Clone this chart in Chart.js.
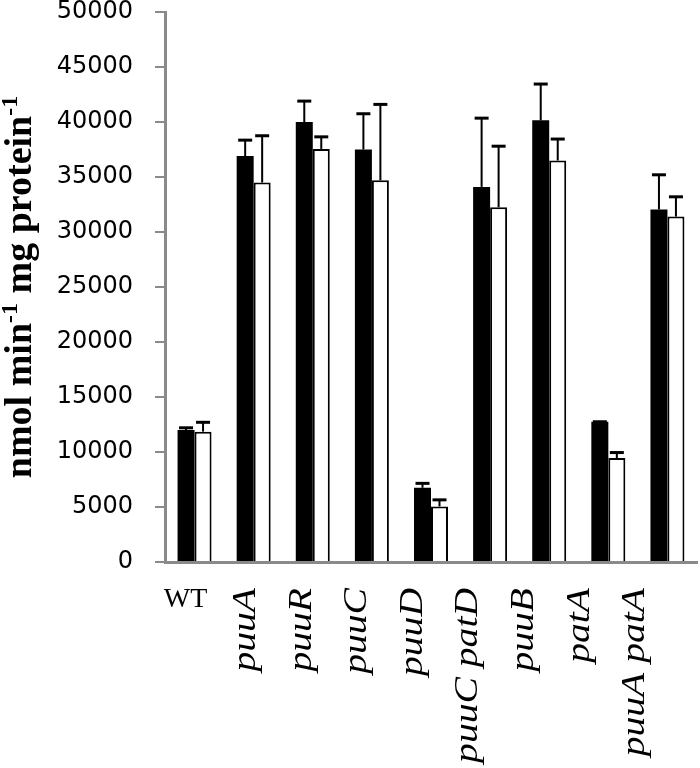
<!DOCTYPE html>
<html>
<head>
<meta charset="utf-8">
<script src="https://cdn.jsdelivr.net/npm/chart.js@4/dist/chart.umd.min.js"></script>
<style>
  html, body { margin: 0; padding: 0; background: #fff; }
  #wrap { width: 700px; height: 768px; position: relative; }
</style>
</head>
<body>
<div id="wrap"><canvas id="chart"></canvas></div>
<script>
const categories = ['WT', 'puuA', 'puuR', 'puuC', 'puuD', 'puuC patD', 'puuB', 'patA', 'puuA patA'];
const blackValues = [12000, 36900, 40000, 37500, 6750, 34100, 40150, 12750, 32050];
const blackErrors = [200, 1450, 1900, 3250, 400, 6250, 3300, 0, 3150];
const whiteValues = [11850, 34500, 37550, 34700, 5050, 32250, 36500, 9450, 31400];
const whiteErrors = [850, 4250, 1100, 6900, 600, 5550, 1950, 500, 1800];
const yTicks = [0, 5000, 10000, 15000, 20000, 25000, 30000, 35000, 40000, 45000, 50000];

// upward-only error bars, drawn from the scales
const errorBars = {
  id: 'errorBars',
  afterDatasetsDraw(chart) {
    const ctx = chart.ctx;
    const y = chart.scales.y;
    chart.data.datasets.forEach((ds, di) => {
      const meta = chart.getDatasetMeta(di);
      meta.data.forEach((bar, i) => {
        const top = y.getPixelForValue(ds.data[i]);
        const end = y.getPixelForValue(ds.data[i] + ds.errors[i]);
        ctx.save();
        ctx.strokeStyle = '#000';
        ctx.lineWidth = 2;
        ctx.beginPath();
        ctx.moveTo(bar.x, top);
        ctx.lineTo(bar.x, end);
        ctx.stroke();
        ctx.lineWidth = 3;
        ctx.beginPath();
        ctx.moveTo(bar.x - 7, end);
        ctx.lineTo(bar.x + 7, end);
        ctx.stroke();
        ctx.restore();
      });
    });
  }
};

// y title with superscripts
const yTitle = {
  id: 'yTitle',
  afterDraw(chart) {
    const ctx = chart.ctx;
    const parts = [
      ['nmol min', false], ['-1', true], [' mg protein', false], ['-1', true]
    ];
    const big = 'bold 38px "Liberation Serif", "Times New Roman", serif';
    const small = 'bold 24px "Liberation Serif", "Times New Roman", serif';
    let total = 0;
    parts.forEach(([t, sup]) => { ctx.font = sup ? small : big; total += ctx.measureText(t).width; });
    const cy = (chart.chartArea.top + chart.chartArea.bottom) / 2;
    ctx.save();
    ctx.translate(31, cy);
    ctx.rotate(-Math.PI / 2);
    ctx.fillStyle = '#000';
    ctx.textBaseline = 'alphabetic';
    ctx.textAlign = 'left';
    let x = -total / 2;
    parts.forEach(([t, sup]) => {
      ctx.font = sup ? small : big;
      ctx.fillText(t, x, sup ? -14 : 0);
      x += ctx.measureText(t).width;
    });
    ctx.restore();
  }
};

// category labels: WT upright, gene names italic and rotated
const xLabels = {
  id: 'xLabels',
  afterDraw(chart) {
    const ctx = chart.ctx;
    const xs = chart.scales.x;
    const base = chart.chartArea.bottom;
    const x0 = xs.getPixelForValue(0);
    ctx.save();
    ctx.fillStyle = '#000';
    categories.forEach((label, i) => {
      const px = x0 + (xs.getPixelForValue(i) - x0) * 0.94;
      if (i === 0) {
        ctx.font = '28px "Liberation Serif", "Times New Roman", serif';
        ctx.textAlign = 'center';
        ctx.textBaseline = 'alphabetic';
        ctx.fillText(label, px - 9, base + 45);
        return;
      }
      ctx.save();
      ctx.translate(px + 5, base + 26);
      ctx.rotate(-Math.PI / 2);
      ctx.scale(1.2, 1);
      ctx.font = 'italic 33px "Liberation Serif", "Times New Roman", serif';
      ctx.textAlign = 'right';
      ctx.textBaseline = 'alphabetic';
      ctx.fillText(label, 0, 0);
      ctx.restore();
    });
    ctx.restore();
  }
};

new Chart(document.getElementById('chart'), {
  type: 'bar',
  data: {
    labels: categories,
    datasets: [
      {
        data: blackValues,
        errors: blackErrors,
        backgroundColor: '#000',
        borderColor: '#000',
        borderWidth: 0,
        barPercentage: 1,
        categoryPercentage: 0.575,
      },
      {
        data: whiteValues,
        errors: whiteErrors,
        backgroundColor: '#fff',
        borderColor: '#000',
        borderWidth: { top: 2, right: 2, left: 2, bottom: 0 },
        barPercentage: 1,
        categoryPercentage: 0.575,
      },
    ],
  },
  options: {
    responsive: true,
    maintainAspectRatio: false,
    animation: false,
    layout: { padding: { top: 12, right: 3, left: 0, bottom: 0 } },
    plugins: { legend: { display: false }, tooltip: { enabled: false } },
    scales: {
      x: {
        grid: { display: false },
        border: { display: true, color: '#8a8a8a', width: 3 },
        ticks: { display: false },
        afterFit(scale) { scale.height = 206; },
      },
      y: {
        min: 0,
        max: 50000,
        afterBuildTicks(scale) { scale.ticks = yTicks.map((v) => ({ value: v })); },
        grid: { drawOnChartArea: false, drawTicks: true, tickLength: 10, color: '#8a8a8a', lineWidth: 2 },
        border: { display: true, color: '#8a8a8a', width: 3 },
        ticks: {
          padding: 22,
          color: '#000',
          font: { family: '"DejaVu Sans", sans-serif', size: 24 },
          callback: (v) => String(v),
        },
        afterFit(scale) {
          scale.width = 165;
          scale.paddingTop = 0;
          scale.paddingBottom = 0;
        },
      },
    },
  },
  plugins: [errorBars, yTitle, xLabels],
});
</script>
</body>
</html>
